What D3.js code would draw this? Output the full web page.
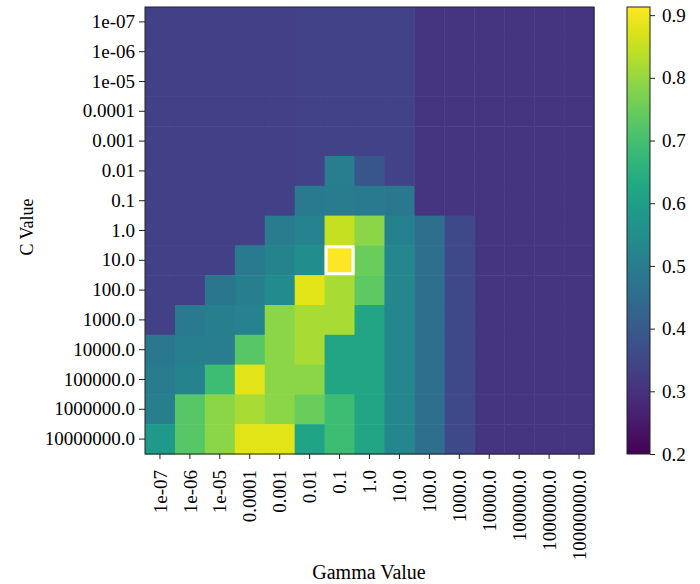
<!DOCTYPE html>
<html>
<head>
<meta charset="utf-8">
<script src="https://cdn.jsdelivr.net/npm/d3@7"></script>
<style>
  body { margin: 0; background: #fff; }
  text { font-family: "Liberation Serif", "Times New Roman", serif; fill: #000; }
</style>
</head>
<body>
<div id="chart"></div>
<script>
// tick labels for both axes (same grid of values)
const gammaLabels = ["1e-07", "1e-06", "1e-05", "0.0001", "0.001", "0.01", "0.1", "1.0", "10.0",
    "100.0", "1000.0", "10000.0", "100000.0", "1000000.0", "10000000.0"];
const cLabels = ["1e-07", "1e-06", "1e-05", "0.0001", "0.001", "0.01", "0.1", "1.0", "10.0",
    "100.0", "1000.0", "10000.0", "100000.0", "1000000.0", "10000000.0"];

// mean accuracy, one row per C value (top to bottom), one column per gamma value
const scores = [
    [0.335, 0.335, 0.335, 0.335, 0.335, 0.34, 0.34, 0.34, 0.34, 0.31, 0.31, 0.31, 0.31, 0.31, 0.31],
    [0.335, 0.335, 0.335, 0.335, 0.335, 0.34, 0.34, 0.34, 0.34, 0.31, 0.31, 0.31, 0.31, 0.31, 0.31],
    [0.335, 0.335, 0.335, 0.335, 0.335, 0.34, 0.34, 0.34, 0.34, 0.31, 0.31, 0.31, 0.31, 0.31, 0.31],
    [0.335, 0.335, 0.335, 0.335, 0.335, 0.34, 0.34, 0.34, 0.34, 0.31, 0.31, 0.31, 0.31, 0.31, 0.31],
    [0.335, 0.335, 0.335, 0.335, 0.335, 0.34, 0.34, 0.34, 0.34, 0.31, 0.31, 0.31, 0.31, 0.31, 0.31],
    [0.335, 0.335, 0.335, 0.335, 0.335, 0.34, 0.50, 0.39, 0.34, 0.31, 0.31, 0.31, 0.31, 0.31, 0.31],
    [0.335, 0.335, 0.335, 0.335, 0.335, 0.49, 0.495, 0.49, 0.485, 0.31, 0.31, 0.31, 0.31, 0.31, 0.31],
    [0.335, 0.335, 0.335, 0.335, 0.495, 0.515, 0.85, 0.79, 0.51, 0.457, 0.357, 0.31, 0.31, 0.31, 0.31],
    [0.335, 0.335, 0.335, 0.49, 0.52, 0.55, 0.913, 0.75, 0.53, 0.457, 0.357, 0.31, 0.31, 0.31, 0.31],
    [0.335, 0.335, 0.48, 0.505, 0.54, 0.88, 0.82, 0.735, 0.53, 0.457, 0.357, 0.31, 0.31, 0.31, 0.31],
    [0.335, 0.49, 0.505, 0.515, 0.79, 0.82, 0.82, 0.62, 0.53, 0.457, 0.357, 0.31, 0.31, 0.31, 0.31],
    [0.485, 0.505, 0.50, 0.725, 0.79, 0.82, 0.62, 0.62, 0.53, 0.457, 0.357, 0.31, 0.31, 0.31, 0.31],
    [0.495, 0.52, 0.69, 0.88, 0.79, 0.79, 0.62, 0.62, 0.53, 0.457, 0.357, 0.31, 0.31, 0.31, 0.31],
    [0.505, 0.725, 0.79, 0.82, 0.79, 0.75, 0.69, 0.62, 0.53, 0.457, 0.357, 0.31, 0.31, 0.31, 0.31],
    [0.585, 0.725, 0.79, 0.88, 0.88, 0.615, 0.69, 0.62, 0.53, 0.457, 0.357, 0.31, 0.31, 0.31, 0.31]
];

const colorTicks = [0.2, 0.3, 0.4, 0.5, 0.6, 0.7, 0.8, 0.9];
const colorDomain = [0.2, 0.913];

const W = 700, H = 584;
const plot = { left: 145, top: 7, right: 594, bottom: 454 };
const bar = { left: 627, right: 650 };

const svg = d3.select("#chart").append("svg")
    .attr("width", W)
    .attr("height", H);

const x = d3.scaleBand().domain(gammaLabels).range([plot.left, plot.right]);
const y = d3.scaleBand().domain(cLabels).range([plot.top, plot.bottom]);
const color = d3.scaleSequential(d3.interpolateViridis).domain(colorDomain);

// flatten grid into cells
const cells = [];
scores.forEach((row, i) => row.forEach((v, j) => cells.push({ c: cLabels[i], g: gammaLabels[j], v: v })));

svg.append("g")
    .selectAll("rect")
    .data(cells)
    .join("rect")
    .attr("x", d => x(d.g))
    .attr("y", d => y(d.c))
    .attr("width", x.bandwidth() + 0.5)
    .attr("height", y.bandwidth() + 0.5)
    .attr("fill", d => color(d.v));

// highlight best cell
const best = cells.reduce((a, b) => (b.v > a.v ? b : a));
svg.append("rect")
    .attr("x", x(best.g) + 1.5)
    .attr("y", y(best.c) + 1.5)
    .attr("width", x.bandwidth() - 3)
    .attr("height", y.bandwidth() - 3)
    .attr("fill", "none")
    .attr("stroke", "#fff")
    .attr("stroke-width", 3);

// axes
const xAxis = svg.append("g")
    .attr("transform", `translate(0,${plot.bottom})`)
    .call(d3.axisBottom(x).tickSize(5).tickPadding(4));
xAxis.selectAll("text")
    .attr("font-size", 19)
    .attr("text-anchor", "end")
    .attr("dy", "0.35em")
    .attr("transform", "rotate(-90)")
    .attr("x", -16)
    .attr("y", 0);

const yAxis = svg.append("g")
    .attr("transform", `translate(${plot.left},0)`)
    .call(d3.axisLeft(y).tickSize(6).tickPadding(4));
yAxis.selectAll("text").attr("font-size", 19);

[xAxis, yAxis].forEach(a => {
    a.select(".domain").remove();
    a.selectAll("line").attr("stroke", "#222");
});

// frame around heatmap
svg.append("rect")
    .attr("x", plot.left)
    .attr("y", plot.top)
    .attr("width", plot.right - plot.left)
    .attr("height", plot.bottom - plot.top)
    .attr("fill", "none")
    .attr("stroke", "#222")
    .attr("stroke-width", 1);

// axis titles
svg.append("text")
    .attr("x", 369)
    .attr("y", 579)
    .attr("text-anchor", "middle")
    .attr("font-size", 20)
    .text("Gamma Value");
svg.append("text")
    .attr("transform", `translate(33,227) rotate(-90)`)
    .attr("text-anchor", "middle")
    .attr("font-size", 18)
    .text("C Value");

// colorbar
const cb = d3.scaleLinear().domain(colorDomain).range([plot.bottom, plot.top]);
const defs = svg.append("defs");
const grad = defs.append("linearGradient")
    .attr("id", "cbgrad")
    .attr("x1", 0).attr("y1", 1).attr("x2", 0).attr("y2", 0);
d3.range(0, 1.0001, 0.05).forEach(t => {
    grad.append("stop")
        .attr("offset", t)
        .attr("stop-color", d3.interpolateViridis(t));
});
svg.append("rect")
    .attr("x", bar.left)
    .attr("y", plot.top)
    .attr("width", bar.right - bar.left)
    .attr("height", plot.bottom - plot.top)
    .attr("fill", "url(#cbgrad)")
    .attr("stroke", "#222")
    .attr("stroke-width", 1);

const cAxis = svg.append("g")
    .attr("transform", `translate(${bar.right},0)`)
    .call(d3.axisRight(cb).tickValues(colorTicks).tickFormat(d3.format(".1f")).tickSize(5).tickPadding(7));
cAxis.select(".domain").remove();
cAxis.selectAll("line").attr("stroke", "#222");
cAxis.selectAll("text").attr("font-size", 19);
</script>
</body>
</html>
